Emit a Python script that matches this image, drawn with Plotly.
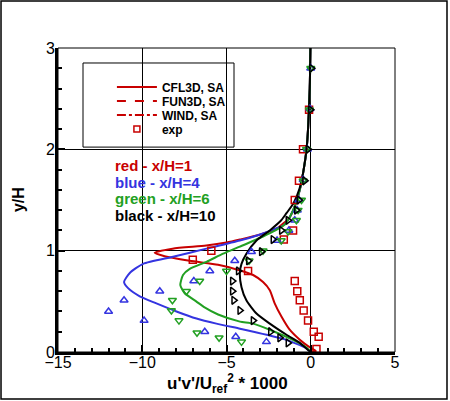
import plotly.graph_objects as go

RED = "#c80000"
BLUE = "#3434e0"
GREEN = "#22a022"
BLACK = "#000000"

# computed profiles (CFL3D, SA): y/H and u'v'/Uref^2 * 1000
y_cfd_1 = [0.0, 0.01, 0.04, 0.08, 0.12, 0.22, 0.35, 0.48, 0.61, 0.69, 0.76, 0.81, 0.86,
           0.90, 0.95, 0.98, 1.02, 1.05, 1.08, 1.11, 1.16, 1.22, 1.33, 1.45, 1.6, 1.8,
           2.0, 2.2, 2.6, 3.0]
uv_cfd_1 = [0.0, 0.3, 0.0, -0.35, -0.65, -1.25, -1.74, -2.14, -2.43, -2.83, -3.42, -4.3,
            -5.5, -7.18, -8.77, -9.26, -8.2, -6.2, -5.0, -4.2, -3.0, -2.0, -1.25, -0.92,
            -0.65, -0.42, -0.25, -0.16, -0.06, -0.02]

y_cfd_4 = [0.0, 0.04, 0.12, 0.20, 0.23, 0.28, 0.33, 0.40, 0.48, 0.55, 0.63, 0.69, 0.78,
           0.87, 0.94, 1.02, 1.10, 1.16, 1.21, 1.25, 1.33, 1.45, 1.6, 1.8, 2.0, 2.2, 2.6,
           3.0]
uv_cfd_4 = [0.0, -0.3, -1.45, -3.4, -4.2, -5.6, -6.78, -7.97, -9.16, -10.15, -10.84,
            -11.08, -10.74, -9.95, -8.17, -6.19, -4.21, -3.0, -2.2, -1.6, -1.25, -0.92,
            -0.65, -0.42, -0.25, -0.16, -0.06, -0.02]

y_cfd_6 = [0.0, 0.05, 0.15, 0.28, 0.30, 0.37, 0.44, 0.50, 0.58, 0.66, 0.76, 0.82, 0.89,
           0.97, 1.04, 1.14, 1.20, 1.25, 1.33, 1.45, 1.6, 1.8, 2.0, 2.2, 2.6, 3.0]
uv_cfd_6 = [0.0, -0.3, -1.44, -3.42, -4.2, -5.5, -6.3, -6.8, -7.48, -7.74, -7.58, -7.18,
            -6.19, -5.2, -4.21, -2.83, -2.1, -1.6, -1.25, -0.92, -0.65, -0.42, -0.25,
            -0.16, -0.06, -0.02]

y_cfd_10 = [0.0, 0.02, 0.09, 0.17, 0.28, 0.38, 0.51, 0.64, 0.78, 0.87, 0.97, 1.10, 1.20,
            1.30, 1.37, 1.46, 1.55, 1.65, 1.8, 2.0, 2.2, 2.6, 3.0]
uv_cfd_10 = [0.0, -0.16, -0.65, -1.44, -2.43, -3.22, -3.82, -4.11, -4.21, -4.11, -3.82,
             -3.22, -2.43, -1.75, -1.44, -1.05, -0.8, -0.6, -0.42, -0.25, -0.16, -0.06,
             -0.02]

# experiment
y_exp_1 = [0.03, 0.15, 0.20, 0.31, 0.41, 0.51, 0.60, 0.70, 0.80, 0.91, 1.00, 1.11, 1.20,
           1.50, 1.69, 2.00, 2.39]
uv_exp_1 = [0.34, 0.47, 0.18, -0.16, -0.42, -0.65, -0.80, -0.95, -3.72, -7.0, -5.9, -1.6,
            -1.05, -0.95, -0.7, -0.46, -0.1]

y_exp_4 = [0.10, 0.15, 0.20, 0.31, 0.40, 0.51, 0.60, 0.70, 0.80, 0.90, 0.99, 1.10, 1.20,
           1.30, 1.40, 1.50, 1.70, 2.00, 2.40, 2.80]
uv_exp_4 = [-2.63, -4.45, -6.29, -9.89, -12.0, -11.08, -8.96, -6.94, -5.99, -4.51, -3.52,
            -2.0, -1.3, -0.95, -0.8, -0.7, -0.45, -0.2, -0.05, 0.0]

y_exp_6 = [0.10, 0.14, 0.19, 0.31, 0.41, 0.51, 0.60, 0.70, 0.80, 0.90, 1.00, 1.10, 1.19,
           1.30, 1.40, 1.50, 1.69, 2.00, 2.39, 2.80]
uv_exp_6 = [-4.11, -5.44, -6.75, -7.82, -8.27, -8.21, -7.38, -6.59, -5.0, -3.66, -2.83,
            -1.75, -1.35, -0.85, -0.75, -0.55, -0.45, -0.25, -0.08, 0.0]

y_exp_10 = [0.09, 0.14, 0.20, 0.31, 0.41, 0.51, 0.60, 0.70, 0.80, 0.90, 0.99, 1.11, 1.20,
            1.30, 1.40, 1.50, 1.69, 2.00, 2.39, 2.80]
uv_exp_10 = [-1.35, -1.84, -2.39, -3.42, -4.21, -4.57, -4.65, -4.65, -4.3, -3.7, -2.93,
             -2.24, -1.74, -1.35, -0.85, -0.7, -0.36, -0.16, -0.02, 0.04]

station_labels = ["red - x/H=1", "blue - x/H=4", "green - x/H=6", "black - x/H=10"]
legend_names = ["CFL3D, SA", "FUN3D, SA", "WIND, SA", "exp"]

FONT = "Liberation Sans, Arial, sans-serif"
LEG_FONT = dict(family=FONT, size=12, color="black", weight="bold")

fig = go.Figure()

# legend-only entries, one legend per row so the rows sit close together
legend_ids = ["legend", "legend2", "legend3", "legend4"]
for name, dash, lg in zip(legend_names[:3], ["solid", "dash", "dashdot"], legend_ids):
    fig.add_trace(go.Scatter(x=[None], y=[None], mode="lines", name=name, legend=lg,
                             line=dict(color=RED, width=2, dash=dash)))
fig.add_trace(go.Scatter(x=[None], y=[None], mode="markers", name=legend_names[3],
                         legend=legend_ids[3],
                         marker=dict(symbol="square-open", size=6, color=RED,
                                     line=dict(width=1.5))))

for xs, ys, c in [(uv_cfd_1, y_cfd_1, RED), (uv_cfd_4, y_cfd_4, BLUE),
                  (uv_cfd_6, y_cfd_6, GREEN), (uv_cfd_10, y_cfd_10, BLACK)]:
    fig.add_trace(go.Scatter(x=xs, y=ys, mode="lines", showlegend=False,
                             line=dict(color=c, width=2, shape="spline", smoothing=0.6)))

for xs, ys, c, sym in [(uv_exp_1, y_exp_1, RED, "square-open"),
                       (uv_exp_4, y_exp_4, BLUE, "triangle-up-open"),
                       (uv_exp_6, y_exp_6, GREEN, "triangle-down-open"),
                       (uv_exp_10, y_exp_10, BLACK, "triangle-right-open")]:
    fig.add_trace(go.Scatter(x=xs, y=ys, mode="markers", showlegend=False,
                             marker=dict(symbol=sym, size=7, color=c,
                                         line=dict(width=1.5, color=c))))

# coloured station labels
for i, (txt, c) in enumerate(zip(station_labels, [RED, BLUE, GREEN, BLACK])):
    fig.add_annotation(x=0.163, y=0.613 - i * 0.0547, xref="paper", yref="paper",
                       text=txt, showarrow=False, xanchor="left", yanchor="middle",
                       font=dict(family=FONT, size=15, color=c, weight="bold"))

# axis titles
fig.add_annotation(x=0.5015, y=-0.102, xref="paper", yref="paper", showarrow=False,
                   text="u'v'/U<sub>ref</sub><sup>2</sup> * 1000", yanchor="middle",
                   font=dict(family=FONT, size=17, color="black", weight="bold"))
fig.add_annotation(x=-0.1187, y=0.503, xref="paper", yref="paper", showarrow=False,
                   text="y/H", textangle=-90, xanchor="center", yanchor="middle",
                   font=dict(family=FONT, size=16, color="black", weight="bold"))

axis_common = dict(showgrid=True, gridcolor="black", gridwidth=1, zeroline=False,
                   showline=True, linecolor="black", linewidth=3, mirror=False,
                   ticks="inside", ticklen=7, tickwidth=1.5, tickcolor="black",
                   automargin=False,
                   tickfont=dict(family=FONT, size=16, color="black"))

fig.update_xaxes(range=[-15, 5], dtick=5, ticklabelstandoff=-6,
                 minor=dict(dtick=1, ticks="inside", ticklen=4, tickcolor="black",
                            showgrid=False),
                 **axis_common)
fig.update_yaxes(range=[0, 3], dtick=1, ticklabelstandoff=-3,
                 minor=dict(dtick=0.2, ticks="inside", ticklen=4, tickcolor="black",
                            showgrid=False),
                 **axis_common)

leg_rows = [0.8717, 0.8257, 0.7796, 0.7336]
legends = {}
for lg, yy in zip(legend_ids, leg_rows):
    legends[lg] = dict(x=0.16, y=yy, xanchor="left", yanchor="middle",
                       bgcolor="rgba(0,0,0,0)", borderwidth=0, font=LEG_FONT,
                       itemwidth=40)

fig.update_layout(
    width=450, height=401,
    margin=dict(l=58, r=55, t=48, b=49),
    paper_bgcolor="white", plot_bgcolor="white",
    showlegend=True,
    shapes=[
        # plot frame
        dict(type="rect", xref="paper", yref="paper", x0=0, x1=1, y0=0, y1=1,
             line=dict(color="black", width=1)),
        # legend box
        dict(type="rect", xref="paper", yref="paper", x0=0.0742, x1=0.5223,
             y0=0.674, y1=0.9507, line=dict(color="black", width=1),
             fillcolor="white", layer="below"),
        # outer frame
        dict(type="rect", xref="paper", yref="paper", x0=-0.1691, x1=1.1543,
             y0=-0.1546, y1=1.1546, line=dict(color="black", width=1.5)),
    ],
    **legends,
)

fig.write_html("out.html", config={"displayModeBar": False},
               post_script="document.body.style.margin='0px';"
                           "document.body.style.overflow='hidden';")
